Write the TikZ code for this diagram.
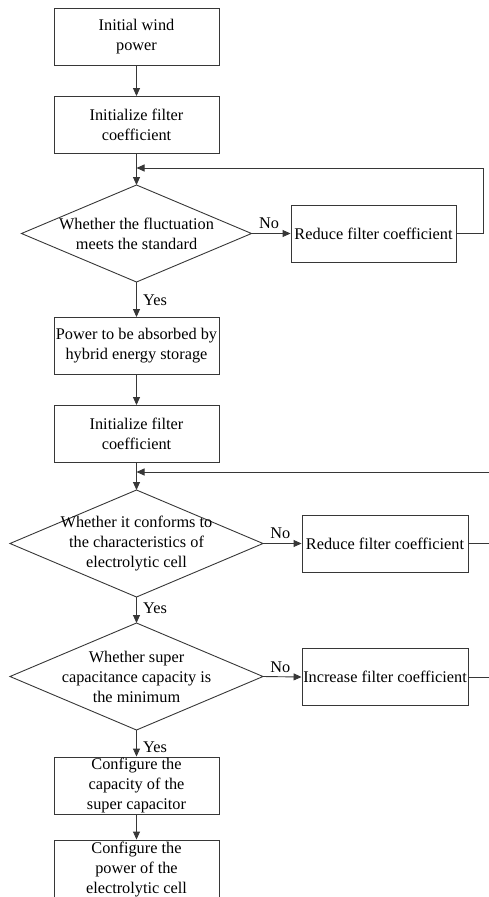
\documentclass[tikz,border=0pt]{standalone}
\usepackage{fontspec}
\setmainfont{Liberation Serif}
\usetikzlibrary{shapes.geometric,arrows.meta}
\definecolor{lc}{RGB}{55,55,55}
\newcommand\figfont{\fontsize{16.3}{20}\selectfont}
\begin{document}
\begin{tikzpicture}[x=1pt,y=-1pt,
  box/.style={draw=lc, line width=0.9pt, minimum width=165pt, minimum height=57pt, inner sep=0pt, align=center, font=\figfont},
  dia/.style={draw=lc, line width=0.9pt, diamond, inner sep=0pt, outer sep=0pt},
  txt/.style={align=center, inner sep=0pt, font=\figfont},
  lbl/.style={inner sep=1pt, font=\figfont},
  arr/.style={draw=lc, line width=0.9pt, -{Triangle[length=8pt,width=7pt]}},
  ln/.style={draw=lc, line width=0.9pt}]
\useasboundingbox (0,0) rectangle (488,897);
\node[box] (b1) at (136.5,37) {Initial wind\\power};
\node[box] (b2) at (136.5,125) {Initialize filter\\coefficient};
\node[dia, minimum width=230pt, minimum height=97pt] (d1) at (136.5,233.5) {};
\node[txt] (t1) at (d1) {Whether the fluctuation\\meets the standard};
\node[box] (b3) at (373.5,233.5) {Reduce filter coefficient};
\node[box] (b4) at (136.5,346) {Power to be absorbed by\\hybrid energy storage};
\node[box] (b5) at (136.5,434) {Initialize filter\\coefficient};
\node[dia, minimum width=253pt, minimum height=107pt] (d2) at (136.5,543.5) {};
\node[txt] (t2) at (d2) {Whether it conforms to\\the characteristics of\\electrolytic cell};
\node[box, minimum width=166pt] (b6) at (385,543.5) {Reduce filter coefficient};
\node[dia, minimum width=253pt, minimum height=107pt] (d3) at (136.5,676.5) {};
\node[txt] (t3) at (d3) {Whether super\\capacitance capacity is\\the minimum};
\node[box, minimum width=166pt] (b7) at (385,677) {Increase filter coefficient};
\node[box] (b8) at (136.5,785.5) {Configure the\\capacity of the\\super capacitor};
\node[box, minimum height=60pt] (b9) at (136.5,870) {Configure the\\power of the\\electrolytic cell};
\coordinate (j1) at (136.5,168);
\coordinate (r1) at (483,233.5);
\coordinate (j2) at (136.5,472);
\coordinate (rc) at (500,472);
\draw[arr] (b1) -- (b2);
\draw[arr] (b2) -- (d1.north);
\draw[arr] (d1.east) -- node[lbl, above=3pt, pos=0.45] (n1) {No} (b3.west);
\draw[arr] (b3.east) -- (r1) |- (j1);
\draw[arr] (d1.south) -- (b4);
\node[lbl, anchor=west] (y1) at (142,300) {Yes};
\draw[arr] (b4) -- (b5);
\draw[arr] (b5) -- (d2.north);
\draw[arr] (d2.east) -- node[lbl, above=3pt, pos=0.45] (n2) {No} (b6.west);
\draw[arr] (b6.east) -| (rc) -- (j2);
\draw[arr] (d2.south) -- (d3.north);
\node[lbl, anchor=west] (y2) at (142,608) {Yes};
\draw[arr] (d3.east) -- node[lbl, above=3pt, pos=0.45] (n3) {No} (b7.west);
\draw[ln] (b7.east) -| (rc);
\draw[arr] (d3.south) -- (b8);
\node[lbl, anchor=west] (y3) at (142,747) {Yes};
\draw[arr] (b8) -- (b9);
\end{tikzpicture}
\end{document}
